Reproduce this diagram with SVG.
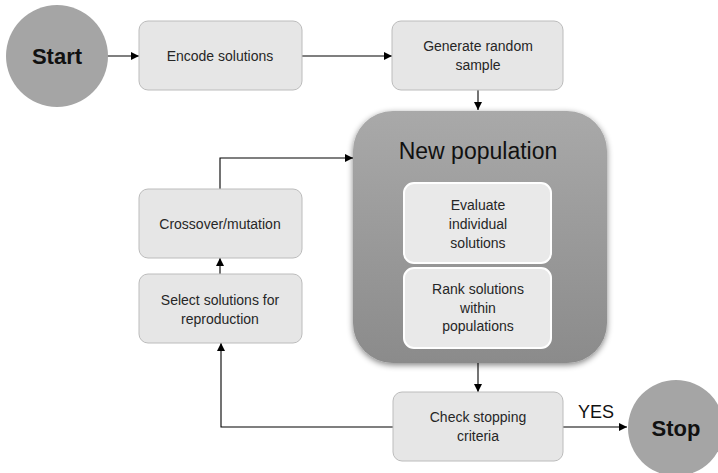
<svg xmlns="http://www.w3.org/2000/svg" width="718" height="473" viewBox="0 0 718 473">
<style>
text{font-family:"Liberation Sans",Arial,sans-serif;fill:#262626;text-anchor:middle}
.t{font-size:14px}
.big{font-size:22px;font-weight:bold;fill:#111}
.box{fill:#e6e6e6;stroke:#bcbcbc;stroke-width:1}
.inner{fill:#e9e9e9;stroke:#ffffff;stroke-width:2}
.circ{fill:#a5a5a5}
.c{fill:none;stroke:#000;stroke-width:1.1;marker-end:url(#ah)}
</style>
<defs>
<marker id="ah" viewBox="0 0 10 10" refX="10" refY="5" markerWidth="8" markerHeight="8" markerUnits="userSpaceOnUse" orient="auto"><path d="M0,0L10,5L0,10z" fill="#000"/></marker>
<linearGradient id="pg" x1="0" y1="0" x2="0" y2="1"><stop offset="0" stop-color="#a9a9a9"/><stop offset="1" stop-color="#8b8b8b"/></linearGradient>
<filter id="sh" x="-10%" y="-10%" width="120%" height="120%"><feGaussianBlur in="SourceAlpha" stdDeviation="3"/><feOffset dx="0" dy="2"/><feComponentTransfer><feFuncA type="linear" slope="0.5"/></feComponentTransfer><feMerge><feMergeNode/><feMergeNode in="SourceGraphic"/></feMerge></filter>
</defs>
<g id="connectors">
<line class="c" x1="103" y1="56" x2="139" y2="56"/>
<line class="c" x1="302" y1="56" x2="392" y2="56"/>
<line class="c" x1="478" y1="90" x2="478" y2="110"/>
<polyline class="c" points="220,189 220,158 353,158"/>
<line class="c" x1="220" y1="274" x2="220" y2="258"/>
<line class="c" x1="478" y1="363" x2="478" y2="392"/>
<polyline class="c" points="393,427 221,427 221,343"/>
<line class="c" x1="563" y1="427" x2="627" y2="427"/>
<text x="596" y="418" style="font-size:18px;fill:#111">YES</text>
</g>
<g id="start"><circle class="circ" cx="57" cy="56" r="51"/><text class="big" x="57" y="64">Start</text></g>
<g id="encode"><rect class="box" x="139" y="21" width="163" height="69" rx="9"/><text class="t" x="220" y="61">Encode solutions</text></g>
<g id="generate"><rect class="box" x="392" y="21" width="171" height="69" rx="9"/><text class="t" x="478" y="51">Generate random</text><text class="t" x="478" y="70">sample</text></g>
<g id="newpop"><rect x="353" y="111" width="254" height="252" rx="40" fill="url(#pg)" filter="url(#sh)"/><text x="478" y="159" style="font-size:23px;fill:#111">New population</text></g>
<g id="evaluate"><rect class="inner" x="404" y="183" width="147" height="80" rx="10"/><text class="t" x="478" y="210">Evaluate</text><text class="t" x="478" y="229">individual</text><text class="t" x="478" y="248">solutions</text></g>
<g id="rank"><rect class="inner" x="404" y="268" width="147" height="80" rx="10"/><text class="t" x="478" y="294">Rank solutions</text><text class="t" x="478" y="313">within</text><text class="t" x="478" y="331">populations</text></g>
<g id="crossover"><rect class="box" x="139" y="189" width="163" height="69" rx="9"/><text class="t" x="220" y="229">Crossover/mutation</text></g>
<g id="select"><rect class="box" x="139" y="274" width="163" height="69" rx="9"/><text class="t" x="220" y="305">Select solutions for</text><text class="t" x="220" y="324">reproduction</text></g>
<g id="check"><rect class="box" x="393" y="392" width="170" height="69" rx="9"/><text class="t" x="478" y="422">Check stopping</text><text class="t" x="478" y="441">criteria</text></g>
<g id="stop"><circle class="circ" cx="676" cy="428" r="48"/><text class="big" x="676" y="436">Stop</text></g>
</svg>
